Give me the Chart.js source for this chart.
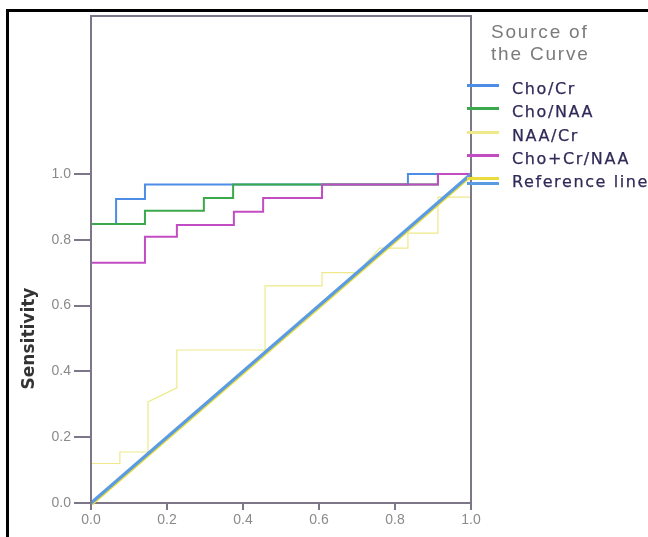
<!DOCTYPE html>
<html><head><meta charset="utf-8">
<script src="https://cdn.jsdelivr.net/npm/chart.js@4.4.0/dist/chart.umd.min.js"></script>
<style>
html,body{margin:0;padding:0;background:#fff;}
#wrap{position:relative;width:648px;height:537px;overflow:hidden;background:#fff;}
#c{position:absolute;left:0;top:0;}
#frame{position:absolute;left:6px;top:9px;width:700px;height:600px;border-left:3px solid #000;border-top:3px solid #000;pointer-events:none;}
#legend{position:absolute;left:0;top:0;width:648px;height:220px;pointer-events:none;}
.lt{position:absolute;left:491px;font-family:"Liberation Sans",Arial,sans-serif;font-size:19px;letter-spacing:1.8px;color:#7b7b7b;white-space:nowrap;line-height:22px;}
.sw{position:absolute;left:467px;width:32px;height:3px;}
.tx{position:absolute;left:512px;font-family:"DejaVu Sans",sans-serif;font-size:16px;letter-spacing:1.6px;color:#2f2a58;white-space:nowrap;line-height:20px;-webkit-text-stroke:0.25px #2f2a58;}
</style></head>
<body>
<div id="wrap">
<canvas id="c" width="648" height="537"></canvas>
<div id="legend"></div>
<div id="frame"></div>
</div>
<script>
// ---- data ----
const seriesNames = ['Cho/Cr', 'Cho/NAA', 'NAA/Cr', 'Cho+Cr/NAA', 'Reference line'];

const choCrX  = [0, 0, 0.066, 0.066, 0.142, 0.142, 0.834, 0.834, 1.0];
const choCrY  = [0, 0.848, 0.848, 0.924, 0.924, 0.968, 0.968, 1.0, 1.0];

const choNaaX = [0, 0, 0.142, 0.142, 0.297, 0.297, 0.374, 0.374, 0.913, 0.913, 1.0];
const choNaaY = [0, 0.848, 0.848, 0.888, 0.888, 0.927, 0.927, 0.968, 0.968, 1.0, 1.0];

const naaCrX  = [0, 0, 0.076, 0.076, 0.15, 0.15, 0.226, 0.226, 0.458, 0.458, 0.608, 0.608, 0.70, 0.76, 0.834, 0.834, 0.913, 0.913, 1.0, 1.0];
const naaCrY  = [0, 0.12, 0.12, 0.155, 0.155, 0.307, 0.35, 0.465, 0.465, 0.66, 0.66, 0.70, 0.70, 0.775, 0.775, 0.82, 0.82, 0.93, 0.93, 1.0];

const sumX    = [0, 0, 0.142, 0.142, 0.226, 0.226, 0.376, 0.376, 0.453, 0.453, 0.608, 0.608, 0.913, 0.913, 1.0];
const sumY    = [0, 0.73, 0.73, 0.809, 0.809, 0.845, 0.845, 0.885, 0.885, 0.927, 0.927, 0.968, 0.968, 1.0, 1.0];

const refX    = [0, 1];
const refY    = [0, 1];

const xTickLabels = ['0.0', '0.2', '0.4', '0.6', '0.8', '1.0'];
const yTickLabels = ['0.0', '0.2', '0.4', '0.6', '0.8', '1.0'];
const frameTopValue = 1.48;

// ---- styles ----
const COL_BLUE = '#4d8de6', COL_GREEN = '#3ba84c', COL_YEL = '#efe98a', COL_PURP = '#c24cc2';
const COL_REF_BLUE = '#5a9be2', COL_REF_YEL = '#e9dc3c';
const AXIS_COLOR = '#7d7688';

const pts = (xs, ys) => xs.map((x, i) => ({x: x, y: ys[i]}));

const mk = (label, xs, ys, color, width, order, extra) => Object.assign({
  label, data: pts(xs, ys), borderColor: color, backgroundColor: color,
  borderWidth: width, pointRadius: 0, tension: 0, fill: false, showLine: true,
  clip: false, order
}, extra || {});

const datasets = [
  mk(seriesNames[4], refX, refY, COL_REF_BLUE, 3.2, 0),
  mk(seriesNames[4], refX, refY, COL_REF_YEL, 2, 1, {shift: true}),
  mk(seriesNames[3], sumX, sumY, COL_PURP, 2, 2),
  mk(seriesNames[1], choNaaX, choNaaY, COL_GREEN, 2, 3),
  mk(seriesNames[0], choCrX, choCrY, COL_BLUE, 2, 4),
  mk(seriesNames[2], naaCrX, naaCrY, COL_YEL, 1.2, 5),
];

const framePlugin = {
  id: 'frameLines',
  beforeDatasetDraw(chart, args) {
    if (args.meta._dataset && args.meta._dataset.shift) {
      chart.ctx.save(); chart.ctx.translate(1.2, 1.6);
    }
  },
  afterDatasetDraw(chart, args) {
    if (args.meta._dataset && args.meta._dataset.shift) chart.ctx.restore();
  },
  afterDraw(chart) {
    const {ctx, chartArea: a, scales} = chart;
    const topPx = scales.y.getPixelForValue(frameTopValue);
    ctx.save();
    ctx.strokeStyle = AXIS_COLOR; ctx.lineWidth = 2;
    ctx.beginPath();
    ctx.moveTo(a.left, a.bottom); ctx.lineTo(a.left, topPx);
    ctx.lineTo(a.right, topPx); ctx.lineTo(a.right, a.bottom);
    ctx.stroke();
    ctx.restore();
  }
};

new Chart(document.getElementById('c'), {
  type: 'scatter',
  data: {datasets},
  options: {
    responsive: false, animation: false,
    layout: {padding: {left: 0, right: 177, top: 174, bottom: 0}},
    plugins: {legend: {display: false}, tooltip: {enabled: false}},
    scales: {
      x: {
        type: 'linear', min: 0, max: 1,
        afterFit: s => { s.height = 34; },
        afterBuildTicks: s => { s.ticks = xTickLabels.map((t, i) => ({value: i * 0.2})); },
        ticks: {callback: (v, i) => xTickLabels[i], color: '#8a8a8a', padding: 2,
                font: {family: '"Liberation Sans", Arial, sans-serif', size: 14}, maxRotation: 0},
        grid: {drawOnChartArea: false, tickLength: 7, color: AXIS_COLOR, lineWidth: 2},
        border: {display: true, color: AXIS_COLOR, width: 2}
      },
      y: {
        type: 'linear', min: 0, max: 1,
        afterFit: s => { s.width = 91; },
        afterBuildTicks: s => { s.ticks = yTickLabels.map((t, i) => ({value: i * 0.2})); },
        ticks: {callback: (v, i) => yTickLabels[i], color: '#8a8a8a', padding: 3,
                font: {family: '"Liberation Sans", Arial, sans-serif', size: 14}},
        grid: {drawOnChartArea: false, tickLength: 17, color: AXIS_COLOR, lineWidth: 2},
        border: {display: true, color: AXIS_COLOR, width: 2},
        title: {display: true, text: 'Sensitivity', color: '#333333',
                font: {family: '"DejaVu Sans", sans-serif', size: 17, weight: 'bold'},
                padding: {top: 19, bottom: 0}}
      }
    }
  },
  plugins: [framePlugin]
});

// ---- HTML legend ----
const legend = document.getElementById('legend');
const t1 = document.createElement('div'); t1.className = 'lt'; t1.style.top = '21px'; t1.textContent = 'Source of'; legend.appendChild(t1);
const t2 = document.createElement('div'); t2.className = 'lt'; t2.style.top = '43px'; t2.textContent = 'the Curve'; legend.appendChild(t2);
const legendItems = [
  {name: seriesNames[0], colors: [COL_BLUE]},
  {name: seriesNames[1], colors: [COL_GREEN]},
  {name: seriesNames[2], colors: [COL_YEL]},
  {name: seriesNames[3], colors: [COL_PURP]},
  {name: seriesNames[4], colors: [COL_REF_YEL, COL_REF_BLUE]},
];
legendItems.forEach((it, i) => {
  const cy = 89 + i * 23.3;
  const tx = document.createElement('div'); tx.className = 'tx';
  tx.style.top = (cy - 10) + 'px'; tx.textContent = it.name; legend.appendChild(tx);
  it.colors.forEach((c, j) => {
    const sw = document.createElement('div'); sw.className = 'sw';
    sw.style.background = c;
    sw.style.top = (it.colors.length > 1 ? (cy - 5 + j * 5) : (cy - 5)) + 'px';
    legend.appendChild(sw);
  });
});
</script>
</body></html>
